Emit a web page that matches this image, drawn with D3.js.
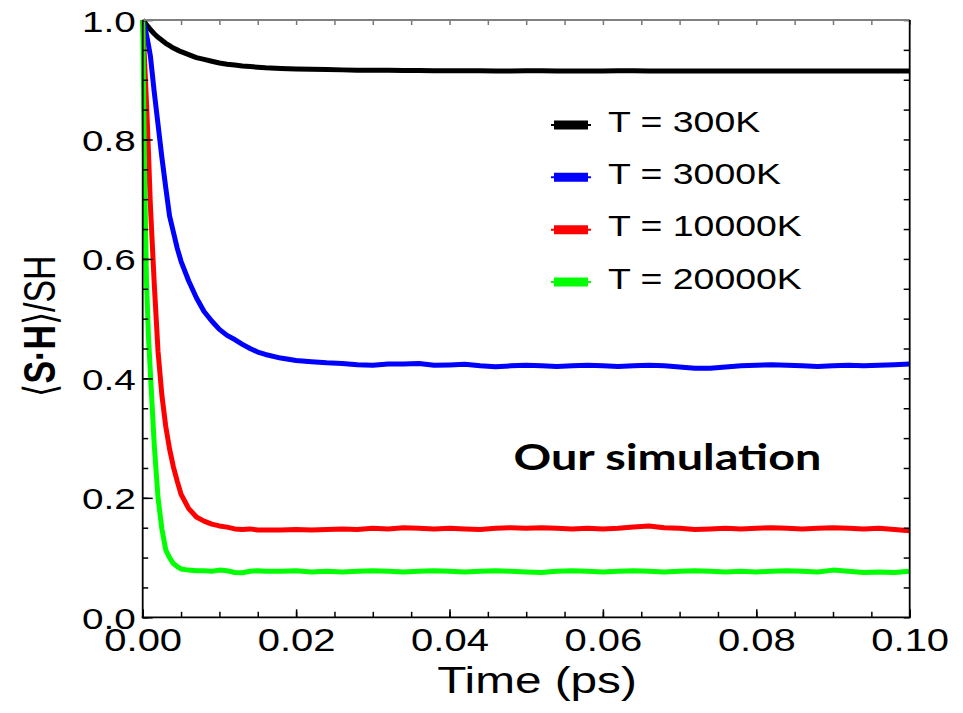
<!DOCTYPE html>
<html>
<head>
<meta charset="utf-8">
<script src="https://cdn.jsdelivr.net/npm/d3@7"></script>
<style>
  html, body { margin: 0; padding: 0; background: #fff; }
  svg { display: block; }
  text { font-family: "Liberation Sans", Arial, sans-serif; fill: #000; }
  text.note { font-family: Lato, "Open Sans", sans-serif; font-weight: 700; }
</style>
</head>
<body>
<svg id="chart" width="963" height="713"></svg>
<script>
// Time grid (ps): dense near the start where the correlations fall off fast
const times = [
  0, 0.00025, 0.0005, 0.00075, 0.001, 0.0015, 0.002, 0.0025, 0.003, 0.0035,
  0.004, 0.0045, 0.005, 0.006, 0.007, 0.008, 0.009, 0.010, 0.011, 0.012,
  0.013, 0.014, 0.015, 0.016,
  0.018, 0.020, 0.022, 0.024, 0.026, 0.028, 0.030, 0.032, 0.034, 0.036,
  0.038, 0.040, 0.042, 0.044, 0.046, 0.048, 0.050, 0.052, 0.054, 0.056,
  0.058, 0.060, 0.062, 0.064, 0.066, 0.068, 0.070, 0.072, 0.074, 0.076,
  0.078, 0.080, 0.082, 0.084, 0.086, 0.088, 0.090, 0.092, 0.094, 0.096,
  0.098, 0.100
];

// <S·H>/SH for each temperature
const t300 = [
  1.000, 0.996, 0.992, 0.988, 0.984, 0.977, 0.971, 0.966, 0.961, 0.957,
  0.953, 0.950, 0.947, 0.942, 0.937, 0.934, 0.931, 0.928, 0.926, 0.9245,
  0.923, 0.922, 0.921, 0.920,
  0.919, 0.918, 0.9175, 0.917, 0.9165, 0.916, 0.916, 0.9158, 0.9155, 0.9155,
  0.9152, 0.915, 0.915, 0.915, 0.9148, 0.9148, 0.915, 0.915, 0.9148, 0.9146,
  0.9146, 0.9148, 0.915, 0.915, 0.9148, 0.9146, 0.9146, 0.9146, 0.9148, 0.9148,
  0.9146, 0.9146, 0.9146, 0.9148, 0.9146, 0.9146, 0.9145, 0.9146, 0.9146, 0.9146,
  0.9146, 0.9146
];
const t3000 = [
  1.000, 0.990, 0.975, 0.958, 0.940, 0.880, 0.825, 0.770, 0.720, 0.672,
  0.645, 0.618, 0.596, 0.563, 0.535, 0.512, 0.496, 0.482, 0.472, 0.465,
  0.457, 0.450, 0.444, 0.440,
  0.434, 0.430, 0.428, 0.426, 0.425, 0.423, 0.422, 0.424, 0.424, 0.425,
  0.422, 0.4225, 0.4235, 0.421, 0.4195, 0.421, 0.422, 0.421, 0.420, 0.421,
  0.422, 0.421, 0.420, 0.421, 0.422, 0.421, 0.419, 0.417, 0.417, 0.419,
  0.421, 0.422, 0.423, 0.422, 0.421, 0.420, 0.421, 0.422, 0.421, 0.422,
  0.423, 0.424
];
const t10000 = [
  1.000, 0.930, 0.860, 0.780, 0.690, 0.560, 0.445, 0.372, 0.320, 0.282,
  0.252, 0.228, 0.206, 0.182, 0.168, 0.161, 0.156, 0.153, 0.151, 0.148,
  0.147, 0.148, 0.146, 0.146,
  0.146, 0.147, 0.146, 0.147, 0.148, 0.147, 0.149, 0.148, 0.150, 0.149,
  0.148, 0.149, 0.148, 0.147, 0.149, 0.150, 0.149, 0.150, 0.149, 0.148,
  0.149, 0.148, 0.149, 0.151, 0.153, 0.150, 0.149, 0.147, 0.148, 0.149,
  0.148, 0.149, 0.150, 0.149, 0.148, 0.149, 0.150, 0.149, 0.148, 0.149,
  0.147, 0.145
];
const t20000 = [
  1.000, 0.740, 0.560, 0.470, 0.410, 0.290, 0.200, 0.148, 0.113, 0.100,
  0.090, 0.085, 0.081, 0.079, 0.078, 0.078, 0.077, 0.079, 0.078, 0.075,
  0.0745, 0.077, 0.078, 0.077,
  0.077, 0.078, 0.076, 0.077, 0.076, 0.077, 0.078, 0.077, 0.076, 0.077,
  0.078, 0.077, 0.076, 0.077, 0.078, 0.077, 0.076, 0.075, 0.077, 0.078,
  0.077, 0.076, 0.077, 0.078, 0.077, 0.076, 0.077, 0.078, 0.077, 0.076,
  0.077, 0.076, 0.077, 0.078, 0.077, 0.076, 0.079, 0.077, 0.075, 0.076,
  0.075, 0.077
];

const seriesNames  = ["T = 300K", "T = 3000K", "T = 10000K", "T = 20000K"];
const seriesValues = [t300, t3000, t10000, t20000];
const seriesColors = ["#000000", "#0000ff", "#ff0000", "#00ff00"];

const xMajorTicks = [0, 0.02, 0.04, 0.06, 0.08, 0.10];
const xTickLabels = ["0.00", "0.02", "0.04", "0.06", "0.08", "0.10"];
const yMajorTicks = [0, 0.2, 0.4, 0.6, 0.8, 1.0];
const yTickLabels = ["0.0", "0.2", "0.4", "0.6", "0.8", "1.0"];
const xMinorTicks = d3.range(0, 21).map(i => i * 0.005);
const yMinorTicks = d3.range(0, 21).map(i => i * 0.05);

const svg = d3.select("#chart");
const plotLeft = 142.7, plotRight = 909.7, plotTop = 20, plotBottom = 617.3;
const stretch = 1.29;  // wide lettering used throughout the figure

const x = d3.scaleLinear().domain([0, 0.10]).range([plotLeft, plotRight]);
const y = d3.scaleLinear().domain([0, 1.0]).range([plotBottom, plotTop]);

// Curves
const line = d3.line().x((d, i) => x(times[i])).y(d => y(d));
svg.append("g").selectAll("path")
  .data(seriesValues)
  .join("path")
  .attr("d", line)
  .attr("fill", "none")
  .attr("stroke", (d, i) => seriesColors[i])
  .attr("stroke-width", 5)
  .attr("stroke-linejoin", "round");

// Axes: inward ticks on all four sides
function styleAxis(g, color) {
  g.select(".domain").remove();
  g.selectAll(".tick line").attr("stroke", color).attr("stroke-width", 1.5);
}
svg.append("g").attr("transform", `translate(0,${plotBottom})`)
  .call(d3.axisBottom(x).tickValues(xMinorTicks).tickSize(-5.5).tickFormat(""))
  .call(g => styleAxis(g, "#000"));
svg.append("g").attr("transform", `translate(0,${plotTop})`)
  .call(d3.axisTop(x).tickValues(xMinorTicks).tickSize(-5).tickFormat(""))
  .call(g => styleAxis(g, "#777"));
svg.append("g").attr("transform", `translate(${plotLeft},0)`)
  .call(d3.axisLeft(y).tickValues(yMinorTicks).tickSize(-5.5).tickFormat(""))
  .call(g => styleAxis(g, "#000"));
svg.append("g").attr("transform", `translate(${plotRight},0)`)
  .call(d3.axisRight(y).tickValues(yMinorTicks).tickSize(-6).tickFormat(""))
  .call(g => styleAxis(g, "#000"));

// Major ticks with labels
const xAxis = svg.append("g").attr("transform", `translate(0,${plotBottom})`)
  .call(d3.axisBottom(x).tickValues(xMajorTicks).tickSize(-8)
    .tickFormat((d, i) => xTickLabels[i]))
  .call(g => styleAxis(g, "#000"));
xAxis.selectAll(".tick text")
  .attr("y", 33.4).attr("dy", null)
  .attr("font-size", 31)
  .attr("fill", "#000")
  .attr("transform", `scale(${stretch},1)`);

const yAxis = svg.append("g").attr("transform", `translate(${plotLeft},0)`)
  .call(d3.axisLeft(y).tickValues(yMajorTicks).tickSize(-10)
    .tickFormat((d, i) => yTickLabels[i]))
  .call(g => styleAxis(g, "#000"));
yAxis.selectAll(".tick text")
  .attr("x", 0).attr("dy", null).attr("y", 11)
  .attr("font-size", 30)
  .attr("fill", "#000")
  .attr("text-anchor", "end")
  .attr("transform", `translate(-7,0) scale(${stretch},1)`);

// Frame
svg.append("line").attr("x1", plotLeft).attr("x2", plotRight).attr("y1", plotTop).attr("y2", plotTop)
  .attr("stroke", "#808080").attr("stroke-width", 2);
svg.append("line").attr("x1", plotLeft).attr("x2", plotLeft).attr("y1", plotTop).attr("y2", plotBottom)
  .attr("stroke", "#000").attr("stroke-width", 1.8);
svg.append("line").attr("x1", plotRight).attr("x2", plotRight).attr("y1", plotTop).attr("y2", plotBottom)
  .attr("stroke", "#000").attr("stroke-width", 1.8);
svg.append("line").attr("x1", plotLeft - 1).attr("x2", plotRight + 1).attr("y1", plotBottom).attr("y2", plotBottom)
  .attr("stroke", "#000").attr("stroke-width", 1.8);

// Axis titles
svg.append("text")
  .attr("transform", `translate(537,693) scale(${stretch},1)`)
  .attr("text-anchor", "middle")
  .attr("font-size", 37)
  .text("Time (ps)");

const yTitle = svg.append("text")
  .attr("transform", `translate(55,326) rotate(-90) scale(1,${stretch})`)
  .attr("text-anchor", "middle")
  .attr("font-size", 34);
yTitle.append("tspan").text("\u27E8");
yTitle.append("tspan").attr("font-weight", "bold").text("S\u00B7H");
yTitle.append("tspan").text("\u27E9/SH");

// Legend
const legendY = d3.scalePoint().domain(seriesNames).range([125, 282]);
const legend = svg.append("g").selectAll("g")
  .data(seriesNames)
  .join("g")
  .attr("transform", d => `translate(0,${legendY(d)})`);
legend.append("line")
  .attr("x1", 551).attr("x2", 591).attr("y1", 0).attr("y2", 0)
  .attr("stroke", (d, i) => seriesColors[i]).attr("stroke-width", 2);
legend.append("line")
  .attr("x1", 554).attr("x2", 588).attr("y1", 0).attr("y2", 0)
  .attr("stroke", (d, i) => seriesColors[i]).attr("stroke-width", 9);
legend.append("text")
  .attr("transform", `translate(608,6.5) scale(${stretch},1)`)
  .attr("font-size", 29)
  .text(d => d);

// Annotation
const note = svg.append("text")
  .attr("class", "note")
  .attr("x", 0).attr("y", 0)
  .attr("font-size", 36)
  .text("Our simulation");
const noteW = note.node().getComputedTextLength();
note.attr("transform", `translate(513.5,470) scale(${308 / noteW},1)`);
</script>
</body>
</html>
